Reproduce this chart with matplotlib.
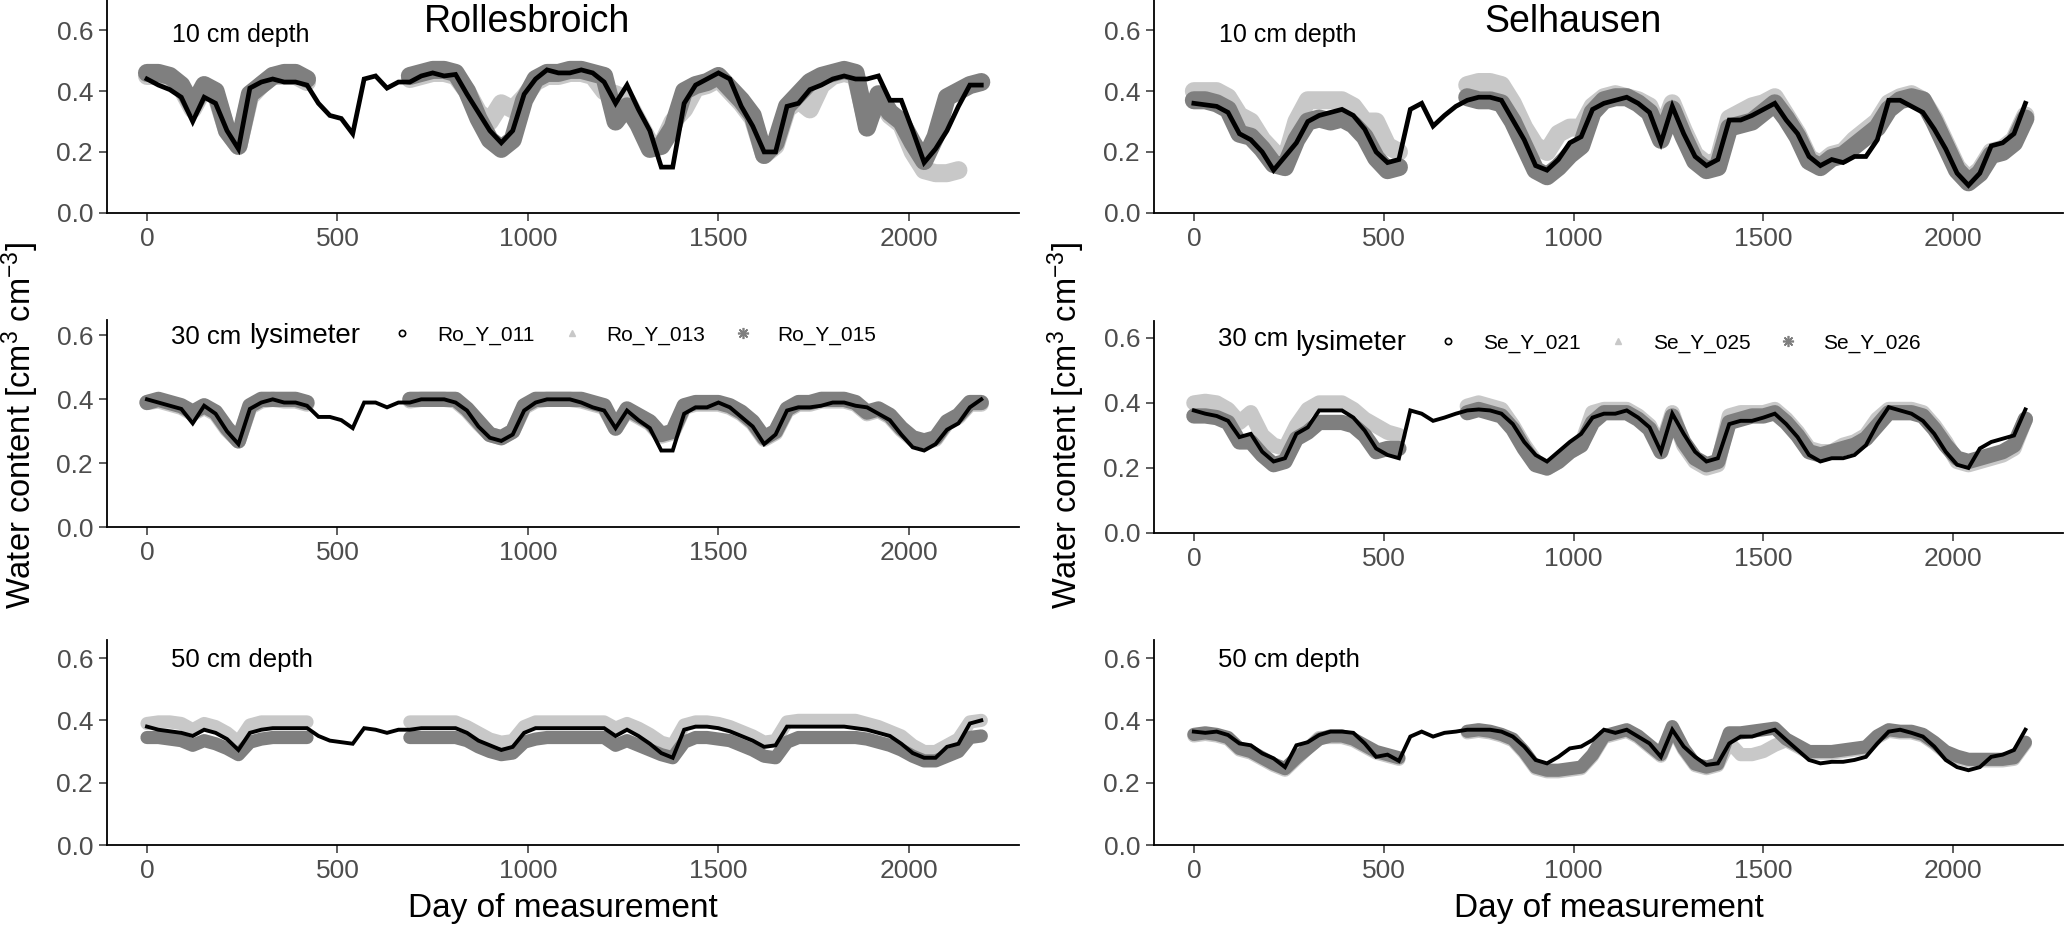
#!/usr/bin/env python3
"""
Soil water content at three depths for the Rollesbroich and Selhausen lysimeters.
"""
import numpy as np
import matplotlib
matplotlib.use("Agg")
import matplotlib.pyplot as plt
from matplotlib.lines import Line2D
from matplotlib.ticker import FormatStrFormatter

nan = np.nan

# sampling days (every 30 days of the record)
days = list(range(0, 2191, 30))

# ---- Rollesbroich, 10 cm ----
ro10_011 = [0.44, 0.42, 0.405, 0.38, 0.30, 0.38, 0.36, 0.27, 0.21, 0.41,
            0.43, 0.44, 0.43, 0.43, 0.42, 0.36, 0.32, 0.31, 0.26, 0.44,
            0.45, 0.41, 0.43, 0.43, 0.45, 0.46, 0.45, 0.455, 0.39, 0.33,
            0.27, 0.23, 0.27, 0.39, 0.44, 0.47, 0.46, 0.46, 0.47, 0.46,
            0.43, 0.36, 0.42, 0.34, 0.27, 0.15, 0.15, 0.36, 0.42, 0.44,
            0.46, 0.44, 0.35, 0.285, 0.20, 0.20, 0.35, 0.36, 0.405, 0.42,
            0.44, 0.45, 0.44, 0.44, 0.45, 0.37, 0.37, 0.27, 0.165, 0.21,
            0.27, 0.35, 0.42, 0.42]
ro10_013 = [0.45, 0.45, 0.44, 0.41, 0.34, 0.41, 0.39, 0.27, 0.22, 0.38,
            0.42, 0.45, 0.45, 0.45, 0.43, nan, nan, nan, nan, nan,
            nan, nan, nan, 0.44, 0.45, 0.46, 0.46, 0.45, 0.40, 0.33,
            0.30, 0.36, 0.34, 0.38, 0.43, 0.45, 0.45, 0.46, 0.46, 0.45,
            0.40, 0.39, 0.37, 0.30, 0.23, 0.22, 0.30, 0.34, 0.41, 0.42,
            0.44, 0.40, 0.36, 0.31, 0.19, 0.22, 0.34, 0.37, 0.34, 0.42,
            0.45, 0.46, 0.45, 0.29, 0.38, 0.32, 0.29, 0.20, 0.14, 0.13,
            0.13, 0.14, nan, nan]
ro10_015 = [0.46, 0.46, 0.45, 0.42, 0.35, 0.42, 0.40, 0.27, 0.22, 0.39,
            0.42, 0.45, 0.46, 0.46, 0.44, nan, nan, nan, nan, nan,
            nan, nan, nan, 0.45, 0.46, 0.47, 0.47, 0.46, 0.40, 0.31,
            0.24, 0.21, 0.24, 0.37, 0.44, 0.46, 0.46, 0.47, 0.47, 0.46,
            0.45, 0.30, 0.35, 0.29, 0.21, 0.22, 0.28, 0.40, 0.42, 0.43,
            0.45, 0.41, 0.37, 0.32, 0.19, 0.23, 0.35, 0.39, 0.43, 0.45,
            0.46, 0.47, 0.46, 0.28, 0.39, 0.33, 0.30, 0.23, 0.17, 0.25,
            0.38, 0.40, 0.42, 0.43]

# ---- Rollesbroich, 30 cm ----
ro30_011 = [0.40, 0.39, 0.38, 0.37, 0.325, 0.38, 0.355, 0.30, 0.26, 0.37,
            0.39, 0.40, 0.39, 0.39, 0.38, 0.345, 0.345, 0.335, 0.31, 0.39,
            0.39, 0.375, 0.39, 0.39, 0.40, 0.40, 0.40, 0.39, 0.365, 0.315,
            0.28, 0.27, 0.29, 0.365, 0.39, 0.40, 0.40, 0.40, 0.39, 0.375,
            0.365, 0.31, 0.365, 0.335, 0.31, 0.24, 0.24, 0.355, 0.375, 0.375,
            0.39, 0.375, 0.345, 0.315, 0.26, 0.29, 0.365, 0.375, 0.375, 0.38,
            0.39, 0.39, 0.38, 0.375, 0.355, 0.335, 0.29, 0.25, 0.24, 0.26,
            0.305, 0.325, 0.375, 0.40]
ro30_013 = [0.39, 0.395, 0.385, 0.375, 0.355, 0.375, 0.355, 0.305, 0.27, 0.375,
            0.395, 0.40, 0.395, 0.395, 0.385, nan, nan, nan, nan, nan,
            nan, nan, nan, 0.395, 0.40, 0.40, 0.40, 0.395, 0.365, 0.325,
            0.29, 0.28, 0.30, 0.375, 0.395, 0.40, 0.40, 0.40, 0.395, 0.385,
            0.375, 0.31, 0.365, 0.345, 0.325, 0.285, 0.295, 0.375, 0.385, 0.385,
            0.385, 0.375, 0.355, 0.325, 0.275, 0.295, 0.365, 0.385, 0.385, 0.395,
            0.395, 0.395, 0.385, 0.355, 0.365, 0.345, 0.305, 0.275, 0.265, 0.275,
            0.325, 0.345, 0.385, 0.385]
ro30_015 = [0.39, 0.40, 0.39, 0.38, 0.36, 0.38, 0.36, 0.31, 0.27, 0.38,
            0.40, 0.40, 0.40, 0.40, 0.39, nan, nan, nan, nan, nan,
            nan, nan, nan, 0.40, 0.40, 0.40, 0.40, 0.40, 0.37, 0.33,
            0.29, 0.28, 0.30, 0.38, 0.40, 0.40, 0.40, 0.40, 0.40, 0.39,
            0.38, 0.31, 0.37, 0.35, 0.33, 0.29, 0.30, 0.38, 0.39, 0.39,
            0.39, 0.38, 0.36, 0.33, 0.28, 0.30, 0.37, 0.39, 0.39, 0.40,
            0.40, 0.40, 0.39, 0.36, 0.37, 0.35, 0.31, 0.28, 0.27, 0.28,
            0.33, 0.35, 0.39, 0.39]

# ---- Rollesbroich, 50 cm ----
ro50_011 = [0.38, 0.37, 0.365, 0.36, 0.35, 0.37, 0.36, 0.34, 0.305, 0.36,
            0.37, 0.375, 0.375, 0.375, 0.375, 0.35, 0.335, 0.33, 0.325, 0.375,
            0.37, 0.36, 0.37, 0.37, 0.375, 0.375, 0.375, 0.375, 0.36, 0.335,
            0.32, 0.305, 0.315, 0.36, 0.375, 0.375, 0.375, 0.375, 0.375, 0.375,
            0.375, 0.35, 0.37, 0.35, 0.325, 0.295, 0.28, 0.37, 0.38, 0.38,
            0.375, 0.365, 0.35, 0.335, 0.315, 0.32, 0.38, 0.38, 0.38, 0.38,
            0.38, 0.38, 0.375, 0.37, 0.36, 0.35, 0.325, 0.295, 0.28, 0.28,
            0.315, 0.325, 0.39, 0.40]
ro50_013 = [0.39, 0.395, 0.395, 0.39, 0.37, 0.39, 0.38, 0.36, 0.33, 0.385,
            0.395, 0.395, 0.395, 0.395, 0.395, nan, nan, nan, nan, nan,
            nan, nan, nan, 0.395, 0.395, 0.395, 0.395, 0.395, 0.38, 0.36,
            0.34, 0.33, 0.335, 0.38, 0.395, 0.395, 0.395, 0.395, 0.395, 0.395,
            0.395, 0.375, 0.39, 0.375, 0.355, 0.33, 0.32, 0.385, 0.395, 0.395,
            0.39, 0.38, 0.365, 0.35, 0.33, 0.335, 0.395, 0.40, 0.40, 0.40,
            0.40, 0.40, 0.40, 0.39, 0.38, 0.365, 0.35, 0.32, 0.30, 0.30,
            0.32, 0.34, 0.395, 0.40]
ro50_015 = [0.345, 0.345, 0.34, 0.335, 0.32, 0.335, 0.325, 0.31, 0.29, 0.33,
            0.34, 0.345, 0.345, 0.345, 0.345, nan, nan, nan, nan, nan,
            nan, nan, nan, 0.345, 0.345, 0.345, 0.345, 0.345, 0.335, 0.315,
            0.30, 0.29, 0.295, 0.33, 0.34, 0.345, 0.345, 0.345, 0.345, 0.345,
            0.345, 0.32, 0.335, 0.32, 0.305, 0.29, 0.28, 0.33, 0.345, 0.345,
            0.34, 0.335, 0.32, 0.305, 0.285, 0.28, 0.33, 0.345, 0.345, 0.345,
            0.345, 0.345, 0.345, 0.34, 0.33, 0.32, 0.305, 0.285, 0.27, 0.27,
            0.285, 0.30, 0.345, 0.35]

# ---- Selhausen, 10 cm ----
se10_021 = [0.36, 0.355, 0.35, 0.33, 0.26, 0.24, 0.20, 0.14, 0.185, 0.23,
            0.30, 0.32, 0.33, 0.34, 0.32, 0.275, 0.20, 0.165, 0.175, 0.34,
            0.36, 0.285, 0.32, 0.35, 0.37, 0.38, 0.38, 0.37, 0.305, 0.24,
            0.155, 0.14, 0.175, 0.23, 0.25, 0.34, 0.36, 0.37, 0.38, 0.36,
            0.33, 0.23, 0.35, 0.26, 0.185, 0.155, 0.175, 0.305, 0.305, 0.32,
            0.34, 0.36, 0.305, 0.26, 0.185, 0.155, 0.175, 0.165, 0.185, 0.185,
            0.24, 0.37, 0.37, 0.35, 0.33, 0.275, 0.21, 0.13, 0.09, 0.13,
            0.22, 0.23, 0.26, 0.36]
se10_025 = [0.40, 0.40, 0.40, 0.38, 0.32, 0.30, 0.24, 0.20, 0.17, 0.30,
            0.37, 0.37, 0.37, 0.37, 0.35, 0.30, 0.30, 0.22, 0.20, nan,
            nan, nan, nan, nan, 0.42, 0.43, 0.43, 0.42, 0.36, 0.28,
            0.22, 0.20, 0.26, 0.28, 0.28, 0.35, 0.38, 0.39, 0.38, 0.37,
            0.35, 0.26, 0.36, 0.27, 0.19, 0.16, 0.17, 0.31, 0.33, 0.35,
            0.36, 0.38, 0.32, 0.26, 0.18, 0.16, 0.19, 0.20, 0.24, 0.27,
            0.30, 0.36, 0.38, 0.39, 0.37, 0.31, 0.23, 0.15, 0.11, 0.14,
            0.20, 0.21, 0.24, 0.32]
se10_026 = [0.37, 0.37, 0.36, 0.34, 0.26, 0.25, 0.21, 0.16, 0.15, 0.24,
            0.30, 0.31, 0.30, 0.31, 0.29, 0.25, 0.18, 0.14, 0.15, nan,
            nan, nan, nan, nan, 0.38, 0.37, 0.37, 0.36, 0.30, 0.22,
            0.14, 0.12, 0.15, 0.19, 0.22, 0.33, 0.37, 0.38, 0.38, 0.36,
            0.33, 0.24, 0.34, 0.25, 0.17, 0.14, 0.15, 0.28, 0.29, 0.30,
            0.33, 0.36, 0.31, 0.25, 0.17, 0.15, 0.18, 0.19, 0.22, 0.25,
            0.28, 0.34, 0.37, 0.38, 0.37, 0.30, 0.22, 0.14, 0.10, 0.13,
            0.19, 0.20, 0.23, 0.31]

# ---- Selhausen, 30 cm ----
se30_021 = [0.377, 0.367, 0.36, 0.345, 0.295, 0.305, 0.25, 0.22, 0.23, 0.305,
            0.325, 0.377, 0.377, 0.377, 0.355, 0.315, 0.26, 0.24, 0.23, 0.377,
            0.367, 0.345, 0.355, 0.367, 0.377, 0.38, 0.377, 0.367, 0.335, 0.28,
            0.24, 0.22, 0.25, 0.28, 0.305, 0.355, 0.367, 0.367, 0.377, 0.355,
            0.325, 0.25, 0.367, 0.305, 0.25, 0.22, 0.23, 0.335, 0.345, 0.345,
            0.355, 0.367, 0.335, 0.295, 0.24, 0.22, 0.23, 0.23, 0.24, 0.27,
            0.335, 0.387, 0.377, 0.367, 0.345, 0.305, 0.25, 0.21, 0.20, 0.26,
            0.28, 0.29, 0.30, 0.38]
se30_025 = [0.40, 0.405, 0.40, 0.38, 0.34, 0.37, 0.30, 0.27, 0.26, 0.33,
            0.38, 0.40, 0.40, 0.40, 0.38, 0.35, 0.33, 0.31, 0.30, nan,
            nan, nan, nan, nan, 0.39, 0.40, 0.39, 0.38, 0.33, 0.27,
            0.22, 0.20, 0.22, 0.25, 0.27, 0.37, 0.38, 0.38, 0.38, 0.36,
            0.33, 0.26, 0.37, 0.27, 0.22, 0.20, 0.21, 0.36, 0.37, 0.37,
            0.37, 0.38, 0.35, 0.31, 0.26, 0.25, 0.25, 0.27, 0.28, 0.30,
            0.35, 0.38, 0.38, 0.38, 0.37, 0.33, 0.28, 0.22, 0.21, 0.22,
            0.23, 0.24, 0.26, 0.35]
se30_026 = [0.36, 0.36, 0.355, 0.34, 0.28, 0.28, 0.24, 0.21, 0.22, 0.29,
            0.31, 0.34, 0.34, 0.34, 0.33, 0.30, 0.25, 0.26, 0.26, nan,
            nan, nan, nan, nan, 0.37, 0.38, 0.37, 0.36, 0.32, 0.26,
            0.21, 0.20, 0.22, 0.25, 0.27, 0.34, 0.37, 0.37, 0.37, 0.35,
            0.32, 0.25, 0.36, 0.28, 0.23, 0.21, 0.22, 0.34, 0.35, 0.36,
            0.36, 0.37, 0.34, 0.30, 0.25, 0.24, 0.25, 0.26, 0.27, 0.29,
            0.33, 0.37, 0.37, 0.37, 0.36, 0.32, 0.27, 0.23, 0.22, 0.23,
            0.24, 0.25, 0.27, 0.35]

# ---- Selhausen, 50 cm ----
se50_021 = [0.364, 0.36, 0.364, 0.353, 0.326, 0.32, 0.294, 0.278, 0.25, 0.32,
            0.33, 0.353, 0.364, 0.364, 0.36, 0.326, 0.283, 0.29, 0.27, 0.348,
            0.364, 0.348, 0.36, 0.364, 0.37, 0.37, 0.37, 0.364, 0.348, 0.316,
            0.273, 0.262, 0.283, 0.31, 0.316, 0.337, 0.37, 0.36, 0.37, 0.348,
            0.326, 0.283, 0.37, 0.316, 0.283, 0.257, 0.262, 0.326, 0.348, 0.348,
            0.36, 0.37, 0.337, 0.305, 0.273, 0.262, 0.267, 0.267, 0.273, 0.283,
            0.326, 0.364, 0.37, 0.36, 0.348, 0.316, 0.273, 0.25, 0.24, 0.25,
            0.283, 0.29, 0.305, 0.37]
se50_025 = [0.35, 0.355, 0.35, 0.34, 0.305, 0.295, 0.275, 0.255, 0.24, 0.275,
            0.31, 0.345, 0.345, 0.345, 0.335, 0.315, 0.295, 0.285, 0.275, nan,
            nan, nan, nan, nan, 0.36, 0.365, 0.36, 0.35, 0.335, 0.295,
            0.245, 0.235, 0.235, 0.24, 0.245, 0.285, 0.345, 0.355, 0.365, 0.345,
            0.315, 0.285, 0.375, 0.305, 0.255, 0.245, 0.255, 0.33, 0.29, 0.29,
            0.30, 0.32, 0.335, 0.315, 0.295, 0.295, 0.295, 0.30, 0.305, 0.31,
            0.345, 0.365, 0.36, 0.36, 0.35, 0.325, 0.295, 0.28, 0.27, 0.27,
            0.27, 0.27, 0.275, 0.325]
se50_026 = [0.355, 0.36, 0.355, 0.345, 0.31, 0.30, 0.28, 0.26, 0.245, 0.28,
            0.31, 0.34, 0.35, 0.35, 0.34, 0.32, 0.30, 0.29, 0.28, nan,
            nan, nan, nan, nan, 0.365, 0.37, 0.365, 0.355, 0.34, 0.30,
            0.25, 0.24, 0.24, 0.245, 0.25, 0.29, 0.35, 0.36, 0.37, 0.35,
            0.32, 0.29, 0.38, 0.31, 0.26, 0.25, 0.26, 0.36, 0.36, 0.365,
            0.37, 0.375, 0.34, 0.32, 0.30, 0.30, 0.30, 0.305, 0.31, 0.315,
            0.35, 0.37, 0.365, 0.365, 0.355, 0.33, 0.30, 0.285, 0.275, 0.275,
            0.275, 0.275, 0.28, 0.33]

ro_names = ["Ro_Y_011", "Ro_Y_013", "Ro_Y_015"]
se_names = ["Se_Y_021", "Se_Y_025", "Se_Y_026"]
depth_labels = ["10 cm depth", "30 cm", "50 cm depth"]

BLACK = "#000000"
LIGHT = "#c8c8c8"
DARK = "#7f7f7f"
TICK_TXT = "#4d4d4d"

plt.rcParams["font.family"] = ["Liberation Sans", "DejaVu Sans"]
plt.rcParams["mathtext.fontset"] = "custom"
plt.rcParams["mathtext.rm"] = "Liberation Sans"
plt.rcParams["mathtext.it"] = "Liberation Sans:italic"
plt.rcParams["mathtext.bf"] = "Liberation Sans:bold"

W, H = 2067, 930
fig = plt.figure(figsize=(W / 100, H / 100), dpi=100)


def px_axes(left, right, top, bottom):
    return fig.add_axes([left / W, 1 - bottom / H, (right - left) / W, (bottom - top) / H])


# panel frames in pixels: (left, right) per column, (top, bottom, y upper limit) per row
left_col = (107, 1019)
right_col = (1154, 2063)
rows_left = [(0, 212.7, 0.70), (320, 527.3, 0.648), (640, 845, 0.658)]
rows_right = [(0, 212.7, 0.70), (320.7, 533, 0.653), (640, 845, 0.658)]
band_lw = [13, 11, 9.5]
black_lw = [3.4, 2.8, 2.8]

site_data = {
    "Rollesbroich": [(ro10_011, ro10_013, ro10_015),
                     (ro30_011, ro30_013, ro30_015),
                     (ro50_011, ro50_013, ro50_015)],
    "Selhausen": [(se10_021, se10_025, se10_026),
                  (se30_021, se30_025, se30_026),
                  (se50_021, se50_025, se50_026)],
}


def style_axis(ax, ytop):
    ax.set_xlim(-105, 2289)
    ax.set_ylim(0, ytop)
    ax.set_xticks([0, 500, 1000, 1500, 2000])
    ax.set_yticks([0.0, 0.2, 0.4, 0.6])
    ax.yaxis.set_major_formatter(FormatStrFormatter("%.1f"))
    for s in ("top", "right"):
        ax.spines[s].set_visible(False)
    for s in ("left", "bottom"):
        ax.spines[s].set_linewidth(1.3)
    ax.tick_params(direction="out", length=5.5, width=1.1, color="#333333",
                   labelsize=19, labelcolor=TICK_TXT, pad=4.5)


for col, (site, names, (x0, x1), rows) in enumerate([
        ("Rollesbroich", ro_names, left_col, rows_left),
        ("Selhausen", se_names, right_col, rows_right)]):
    for r, (top, bottom, ytop) in enumerate(rows):
        ax = px_axes(x0, x1, top, bottom)
        black, light, dark = site_data[site][r]
        ax.plot(days, light, color=LIGHT, lw=band_lw[r],
                solid_joinstyle="round", solid_capstyle="round")
        ax.plot(days, dark, color=DARK, lw=band_lw[r],
                solid_joinstyle="round", solid_capstyle="round")
        ax.plot(days, black, color=BLACK, lw=black_lw[r], solid_joinstyle="miter")
        style_axis(ax, ytop)

        h = bottom - top
        if r == 0:
            ax.text(0.071, (bottom - 41.7) / h, depth_labels[r], transform=ax.transAxes,
                    ha="left", va="baseline", fontsize=18)
            ax.text(0.461, (bottom - 32.5) / h, site, transform=ax.transAxes,
                    ha="center", va="baseline", fontsize=27)
        elif r == 1:
            base = 344 if col == 0 else 346
            ax.text(0.070, (bottom - base) / h, depth_labels[r], transform=ax.transAxes,
                    ha="left", va="baseline", fontsize=18.5)
            lys_base = 343 if col == 0 else 350
            ax.text(0.1557, (bottom - lys_base) / h, "lysimeter", transform=ax.transAxes,
                    ha="left", va="baseline", fontsize=20)
            handles = [
                Line2D([], [], ls="none", marker="o", mfc="none", mec=BLACK, mew=1.2, ms=4.5),
                Line2D([], [], ls="none", marker="^", color=LIGHT, ms=5),
                Line2D([], [], ls="none", marker=(8, 2, 0), color=DARK, mew=1.2, ms=8),
            ]
            leg_mid = 335 if col == 0 else 343
            ax.legend(handles, names, loc="center left",
                      bbox_to_anchor=(0.312, (bottom - leg_mid) / h),
                      ncol=3, frameon=False, fontsize=15, handlelength=1.0,
                      handletextpad=1.17, columnspacing=1.3, borderpad=0,
                      borderaxespad=0)
        else:
            ax.text(0.070, (bottom - 667) / h, depth_labels[r], transform=ax.transAxes,
                    ha="left", va="baseline", fontsize=18.5)

    fig.text((x0 + x1) / 2 / W, 1 - 917 / H, "Day of measurement",
             ha="center", va="baseline", fontsize=24)

ylab = "Water content [cm$^{\\mathrm{3}}$ cm$^{\\mathrm{-3}}$]"
fig.text(20 / W, 1 - 425 / H, ylab, rotation=90, ha="center", va="center", fontsize=23.5)
fig.text(1066 / W, 1 - 425 / H, ylab, rotation=90, ha="center", va="center", fontsize=23.5)

fig.savefig("out.png", dpi=100)
print("Saved: out.png")
